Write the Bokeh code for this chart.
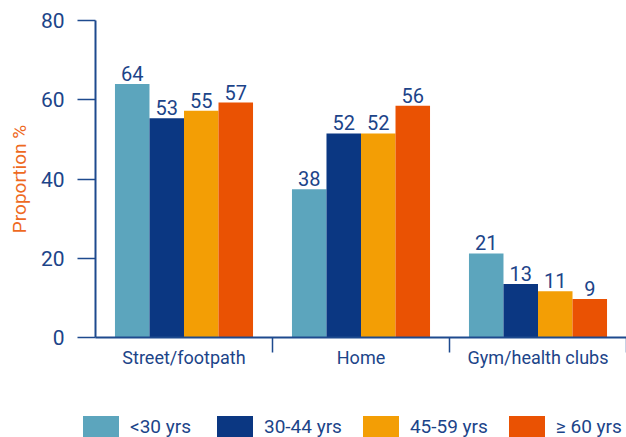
from bokeh.plotting import figure
from bokeh.layouts import column, row
from bokeh.models import (ColumnDataSource, FactorRange, LinearAxis, FixedTicker,
                          CustomJSTickFormatter, Legend, LegendItem, Range1d)
from bokeh.transform import dodge
from bokeh.core.properties import value
from bokeh.embed import file_html
from bokeh.resources import INLINE

# ---- data ----
categories = ["Street/footpath", "Home", "Gym/health clubs"]
series_names = ["<30 yrs", "30-44 yrs", "45-59 yrs", "\u2265 60 yrs"]
# bar heights as drawn
under30 = [64.0, 37.4, 21.2]
age30_44 = [55.3, 51.5, 13.5]
age45_59 = [57.2, 51.5, 11.7]
over60 = [59.3, 58.5, 9.7]
# printed value labels
lab_under30 = ["64", "38", "21"]
lab_30_44 = ["53", "52", "13"]
lab_45_59 = ["55", "52", "11"]
lab_over60 = ["57", "56", "9"]
y_ticks = [0, 20, 40, 60, 80]

FONT = "Roboto"
TXT = "#1c4489"
AXIS = "#1e4a8e"
ORANGE_LABEL = "#ee6a1f"
colors = ["#5ca5bd", "#0b3782", "#f39e05", "#ea5203"]

src = ColumnDataSource(dict(
    cat=categories, s0=under30, s1=age30_44, s2=age45_59, s3=over60,
    l0=lab_under30, l1=lab_30_44, l2=lab_45_59, l3=lab_over60,
))

p = figure(width=626, height=410,
           x_range=FactorRange(*categories, range_padding=0),
           y_range=Range1d(0, 80),
           output_backend="svg", toolbar_location=None,
           x_axis_location=None,
           min_border_left=95, min_border_right=0,
           min_border_top=20, min_border_bottom=73)
p.outline_line_color = None
p.xgrid.visible = False
p.ygrid.visible = False

w = 0.195
for i in range(4):
    off = (i - 1.5) * w
    p.vbar(x=dodge("cat", off, range=p.x_range), top="s%d" % i, width=w,
           source=src, fill_color=colors[i], line_color=None)
    p.text(x=dodge("cat", off, range=p.x_range), y="s%d" % i, text="l%d" % i,
           source=src, text_align="center", text_baseline="bottom", y_offset=-3,
           text_font=value(FONT), text_font_size="20px", text_color=TXT)

# y axis
ya = p.yaxis[0]
ya.ticker = FixedTicker(ticks=y_ticks)
ya.axis_line_color = AXIS
ya.axis_line_width = 2
ya.major_tick_line_color = AXIS
ya.major_tick_line_width = 1.5
ya.major_tick_out = 18
ya.major_tick_in = 0
ya.minor_tick_line_color = None
ya.major_label_standoff = 13
ya.major_label_text_font = FONT
ya.major_label_text_font_size = "21px"
ya.major_label_text_color = TXT
ya.axis_label = "Proportion %"
ya.axis_label_text_font = FONT
ya.axis_label_text_font_size = "19px"
ya.axis_label_text_font_style = "normal"
ya.axis_label_text_color = ORANGE_LABEL
ya.axis_label_standoff = 7

# x axis: category labels at centres, separator ticks between categories
n = len(categories)
xa = LinearAxis(ticker=FixedTicker(ticks=[k + 0.5 for k in range(n)],
                                   minor_ticks=[k + 1 for k in range(n)]),
                formatter=CustomJSTickFormatter(args=dict(cats=categories),
                                                code="return cats[Math.floor(tick)]"))
xa.axis_line_color = AXIS
xa.axis_line_width = 2
xa.major_tick_line_color = None
xa.major_tick_out = 0
xa.major_tick_in = 0
xa.minor_tick_line_color = AXIS
xa.minor_tick_line_width = 1.5
xa.minor_tick_out = 15
xa.minor_tick_in = 0
xa.major_label_standoff = -6
xa.major_label_text_font = FONT
xa.major_label_text_font_size = "18px"
xa.major_label_text_color = TXT
p.add_layout(xa, "below")

# legend strip below the chart
lg = figure(width=626, height=27, x_range=Range1d(0, 1), y_range=Range1d(0, 1),
            output_backend="svg", toolbar_location=None,
            x_axis_location=None, y_axis_location=None,
            min_border=0, min_border_left=0, min_border_right=0,
            min_border_top=0, min_border_bottom=0)
lg.outline_line_color = None
lg.xgrid.visible = False
lg.ygrid.visible = False
items = []
for i in range(4):
    # zero-height proxy bar so the legend swatch gets this series' colour
    r = lg.vbar(x=[0], top=[0], width=0, fill_color=colors[i], line_color=None)
    items.append(LegendItem(label=series_names[i], renderers=[r]))
legend = Legend(items=items, orientation="horizontal", location=(78, -2),
                glyph_width=45, glyph_height=26, label_standoff=7, spacing=16, label_width=66,
                padding=0, margin=0, border_line_color=None, background_fill_alpha=0,
                label_text_font=FONT, label_text_font_size="19px", label_text_color=TXT)
lg.add_layout(legend, "center")

layout = column(p, row(lg, spacing=0), spacing=0)
open("out.html", "w").write(file_html(layout, INLINE))
